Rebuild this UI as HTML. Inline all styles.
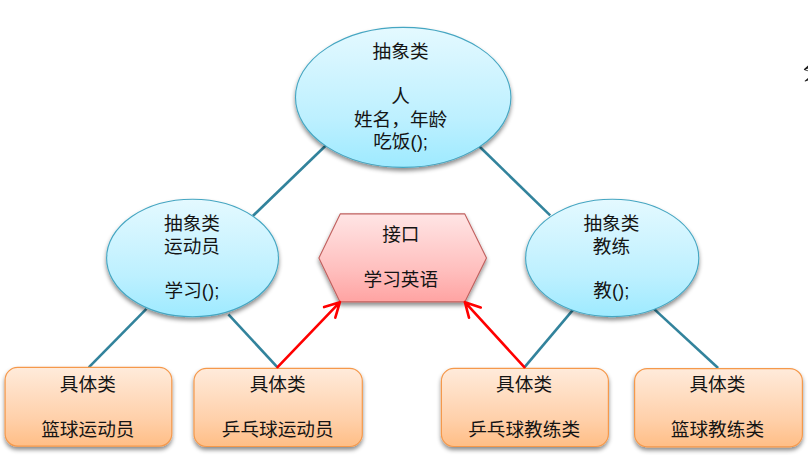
<!DOCTYPE html>
<html lang="zh-CN">
<head>
<meta charset="utf-8">
<title>抽象类 / 接口 类图</title>
<style>
html,body{margin:0;padding:0;background:#fff;width:808px;height:455px;overflow:hidden;}
body{position:relative;font-family:"Liberation Sans","Noto Sans CJK SC",sans-serif;}
svg{position:absolute;left:0;top:0;display:block;}
.cl{stroke:#32839c;stroke-width:2.6;stroke-linecap:butt;fill:none;}
.ar{stroke:#ff0000;stroke-width:2.6;stroke-linecap:round;stroke-linejoin:round;fill:none;}
.gl{fill:#141414;}
.t{position:absolute;width:160px;text-align:center;font-family:"Liberation Sans","Noto Sans CJK SC",sans-serif;font-size:18.667px;line-height:22.4px;color:#141414;white-space:nowrap;}
</style>
</head>
<body>
<svg width="808" height="455" viewBox="0 0 808 455">
<defs>
<linearGradient id="gb" x1="0" y1="0" x2="0" y2="1"><stop offset="0" stop-color="#e4f9ff"/><stop offset="0.65" stop-color="#bdf0ff"/><stop offset="1" stop-color="#9eeaff"/></linearGradient>
<linearGradient id="gr" x1="0" y1="0" x2="0" y2="1"><stop offset="0" stop-color="#ffe5e5"/><stop offset="0.65" stop-color="#ffbebd"/><stop offset="1" stop-color="#ffa3a2"/></linearGradient>
<linearGradient id="go" x1="0" y1="0" x2="0" y2="1"><stop offset="0" stop-color="#ffebdb"/><stop offset="0.65" stop-color="#ffd0aa"/><stop offset="1" stop-color="#ffbe86"/></linearGradient>
<filter id="sh" x="-10%" y="-10%" width="120%" height="130%"><feDropShadow dx="0" dy="3" stdDeviation="2.2" flood-color="#000" flood-opacity="0.45"/></filter>
</defs>
<rect width="808" height="455" fill="#fff"/>
<g>
<line x1="253" y1="215.8" x2="325.8" y2="145.5" class="cl"/>
<line x1="478.7" y1="145.8" x2="550.2" y2="215.4" class="cl"/>
<line x1="146.4" y1="308.9" x2="88.8" y2="367.4" class="cl"/>
<line x1="228.4" y1="314.3" x2="277.5" y2="367.4" class="cl"/>
<line x1="573.6" y1="309.1" x2="524.4" y2="367.4" class="cl"/>
<line x1="654.2" y1="309.1" x2="718.1" y2="368" class="cl"/>
</g>
<g filter="url(#sh)">
<ellipse cx="403.2" cy="97.35" rx="107.7" ry="70" fill="url(#gb)" stroke="#45a6c2" stroke-width="1.1"/>
<ellipse cx="192.55" cy="258" rx="85.95" ry="58.8" fill="url(#gb)" stroke="#45a6c2" stroke-width="1.1"/>
<ellipse cx="612.2" cy="257.9" rx="86.6" ry="58.7" fill="url(#gb)" stroke="#45a6c2" stroke-width="1.1"/>
<polygon points="318.9,257.9 340.2,213.9 464.8,213.9 486.5,257.9 464.8,301.9 340,301.9" fill="url(#gr)" stroke="#c0605e" stroke-width="1.1" stroke-linejoin="round"/>
<rect x="5.1" y="367.4" width="166.7" height="78.8" rx="12.5" ry="12.5" fill="url(#go)" stroke="#f5994c" stroke-width="1.2"/>
<rect x="194" y="368.4" width="168.3" height="78.1" rx="12.5" ry="12.5" fill="url(#go)" stroke="#f5994c" stroke-width="1.2"/>
<rect x="441.4" y="368.4" width="167" height="78.1" rx="12.5" ry="12.5" fill="url(#go)" stroke="#f5994c" stroke-width="1.2"/>
<rect x="634.6" y="368.6" width="167.8" height="78.2" rx="12.5" ry="12.5" fill="url(#go)" stroke="#f5994c" stroke-width="1.2"/>
</g>
<g>
<path d="M277.6 367.2L339.9 302.2M324.1 307.1L339.9 302.2L335.3 317.7" class="ar"/>
<path d="M524.3 367.2L464.9 302.2M480.7 307.5L464.9 302.2L469 317.7" class="ar"/>
</g>
<g class="gl">
<path d="M803.8 69.2L808 65.4L808 68.4L805.4 69.7L808 70.4L808 71.2L804.2 69.9ZM804.5 80.9L808 77.9L808 80.4L805.2 81.5Z" fill="#1c1c1c"/>
</g>
</svg>
<div class="t" style="left:320.6px;top:41.35px">抽象类<br>&nbsp;<br>人<br>姓名，年龄<br>吃饭();</div>
<div class="t" style="left:112px;top:213.25px">抽象类<br>运动员<br>&nbsp;<br>学习();</div>
<div class="t" style="left:531.4px;top:213.25px">抽象类<br>教练<br>&nbsp;<br>教();</div>
<div class="t" style="left:320.8px;top:224.15px">接口<br>&nbsp;<br>学习英语</div>
<div class="t" style="left:7.8px;top:373.75px">具体类<br>&nbsp;<br>篮球运动员</div>
<div class="t" style="left:197.7px;top:373.75px">具体类<br>&nbsp;<br>乒乓球运动员</div>
<div class="t" style="left:444.1px;top:373.75px">具体类<br>&nbsp;<br>乒乓球教练类</div>
<div class="t" style="left:637.4px;top:373.75px">具体类<br>&nbsp;<br>篮球教练类</div>
</body>
</html>
